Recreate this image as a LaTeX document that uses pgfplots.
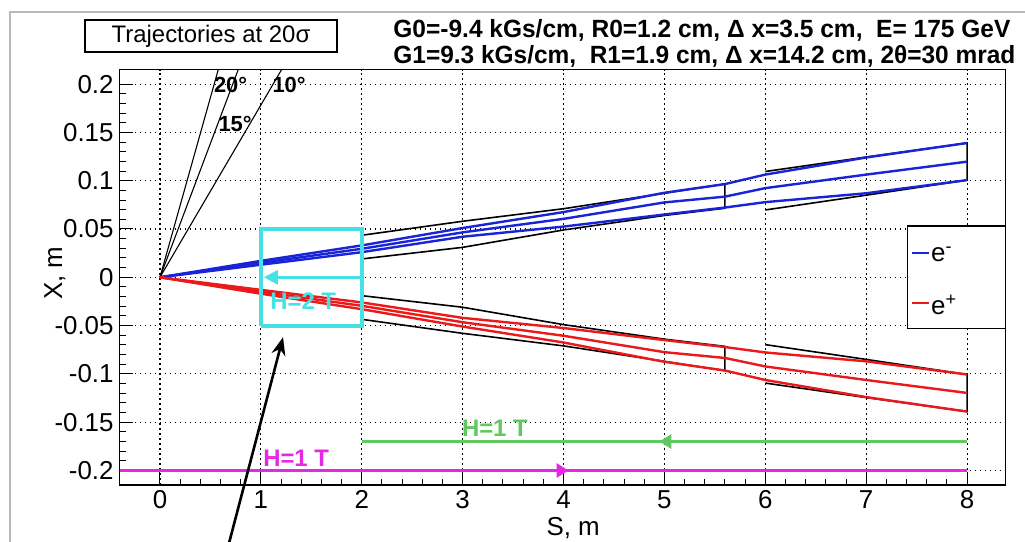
\documentclass[border=0pt]{standalone}
\usepackage{fontspec}
\setmainfont{Liberation Sans}
\usepackage{pgfplots}
\pgfplotsset{compat=1.18}
\usetikzlibrary{arrows.meta}
\definecolor{eblue}{RGB}{25,35,215}
\definecolor{ered}{RGB}{235,25,25}
\definecolor{hgreen}{RGB}{95,200,95}
\definecolor{hmag}{RGB}{230,40,230}
\definecolor{hcyan}{RGB}{70,225,230}
\begin{document}
\begin{tikzpicture}
\useasboundingbox (-59.8bp,-28.5bp) rectangle (452.7bp,242.5bp);
\fill[white] (-59.8bp,-28.5bp) rectangle (452.7bp,242.5bp);
\draw[gray!55, line width=0.8bp] (-54.8bp,-28.5bp) -- (-54.8bp,236.5bp) -- (452.7bp,236.5bp);
\begin{axis}[
  at={(0,0)}, anchor=south west, scale only axis,
  width=442.9bp, height=207.7bp,
  xmin=-0.4, xmax=8.38, ymin=-0.215, ymax=0.215,
  clip=false,
  axis line style={line width=0.75bp},
  tick pos=left, tick align=inside,
  major tick length=6.5bp, minor tick length=3.25bp,
  every tick/.style={black, line width=0.5bp},
  minor x tick num=4, minor y tick num=4,
  xtick={0,1,2,3,4,5,6,7,8},
  xticklabels={0,1,2,3,4,5,6,7,8},
  ytick={-0.2,-0.15,-0.1,-0.05,0,0.05,0.1,0.15,0.2},
  yticklabels={-0.2,-0.15,-0.1,-0.05,0,0.05,0.1,0.15,0.2},
  tick label style={font=\fontsize{13}{14}\selectfont},
  xticklabel style={inner sep=2.5bp},
  yticklabel style={xshift=0.5bp},
  grid=major,
  grid style={black, line width=0.55bp, dash pattern=on 0.9bp off 1.6bp},
  xlabel={S, m},
  xlabel style={at={(axis description cs:0.512,0)}, anchor=center, inner sep=0.5bp, yshift=-21.5bp, font=\fontsize{13}{14}\selectfont},
  ylabel={X, m},
  ylabel style={at={(axis description cs:-0.073,0.51)}, anchor=center, font=\fontsize{13}{14}\selectfont},
]
% angle lines
\addplot[black, line width=0.55bp] coordinates {(0,0) (0.578,0.215)};
\addplot[black, line width=0.55bp] coordinates {(0,0) (0.776,0.215)};
\addplot[black, line width=0.55bp] coordinates {(0,0) (1.206,0.215)};
% envelopes e-
\addplot[black, line width=0.8bp] coordinates {(2,0.0435) (3,0.058) (4,0.071) (5,0.087) (5.6,0.0966) (5.6,0.0715) (5,0.064) (4,0.049) (3,0.031) (2,0.019)};
\addplot[black, line width=0.8bp] coordinates {(6,0.1095) (7,0.1245) (8,0.139) (8,0.1006) (7,0.085) (6,0.0697)};
% envelopes e+
\addplot[black, line width=0.8bp] coordinates {(2,-0.0435) (3,-0.058) (4,-0.071) (5,-0.087) (5.6,-0.0966) (5.6,-0.0715) (5,-0.064) (4,-0.049) (3,-0.031) (2,-0.019)};
\addplot[black, line width=0.8bp] coordinates {(6,-0.1095) (7,-0.1245) (8,-0.139) (8,-0.1006) (7,-0.085) (6,-0.0697)};
% e- trajectories
\addplot[eblue, line width=1.2bp] coordinates {(0,0) (1,0.017) (2,0.033) (3,0.051) (4,0.0675) (5,0.0875) (5.6,0.0965) (6,0.1063) (7,0.124) (8,0.139)};
\addplot[eblue, line width=1.2bp] coordinates {(0,0) (1,0.015) (2,0.0295) (3,0.0465) (4,0.0605) (5,0.0775) (5.6,0.0835) (6,0.0923) (7,0.1063) (8,0.1197)};
\addplot[eblue, line width=1.2bp] coordinates {(0,0) (1,0.013) (2,0.026) (3,0.042) (4,0.0525) (5,0.065) (5.6,0.0722) (6,0.0778) (7,0.087) (8,0.1006)};
% e+ trajectories
\addplot[ered, line width=1.2bp] coordinates {(0,0) (1,-0.017) (2,-0.033) (3,-0.051) (4,-0.0675) (5,-0.0875) (5.6,-0.0965) (6,-0.1063) (7,-0.124) (8,-0.139)};
\addplot[ered, line width=1.2bp] coordinates {(0,0) (1,-0.015) (2,-0.0295) (3,-0.0465) (4,-0.0605) (5,-0.0775) (5.6,-0.0835) (6,-0.0923) (7,-0.1063) (8,-0.1197)};
\addplot[ered, line width=1.2bp] coordinates {(0,0) (1,-0.013) (2,-0.026) (3,-0.042) (4,-0.0525) (5,-0.065) (5.6,-0.0722) (6,-0.0778) (7,-0.087) (8,-0.1006)};
% cyan magnet H=2 T
\addplot[hcyan, line width=2bp] coordinates {(1,-0.05) (2,-0.05) (2,0.05) (1,0.05) (1,-0.05)};
\addplot[hcyan, line width=1.3bp, -{Triangle[length=7bp,width=7bp]}] coordinates {(2,0) (1.03,0)};
% green H=1 T
\addplot[hgreen, line width=1.5bp] coordinates {(8,-0.17) (2,-0.17)};
\addplot[hgreen, line width=1.5bp, -{Triangle[length=6bp,width=7bp]}] coordinates {(8,-0.17) (4.95,-0.17)};
% magenta H=1 T
\addplot[hmag, line width=1.5bp] coordinates {(-0.4,-0.2) (8,-0.2)};
\addplot[hmag, line width=1.5bp, -{Triangle[length=6bp,width=7bp]}] coordinates {(-0.4,-0.2) (4.05,-0.2)};
% labels
\node[hcyan, font=\bfseries\fontsize{12}{13}\selectfont] at (axis cs:1.42,-0.025) {H=2 T};
\node[hgreen, font=\bfseries\fontsize{12}{13}\selectfont] at (axis cs:3.32,-0.156) {H=1 T};
\node[hmag, font=\bfseries\fontsize{12}{13}\selectfont] at (axis cs:1.35,-0.187) {H=1 T};
\node[font=\bfseries\fontsize{11}{12}\selectfont] at (axis cs:0.70,0.199) {20°};
\node[font=\bfseries\fontsize{11}{12}\selectfont] at (axis cs:1.28,0.199) {10°};
\node[font=\bfseries\fontsize{11}{12}\selectfont] at (axis cs:0.745,0.159) {15°};
% pointer arrow
\draw[black, line width=1.3bp, -{Stealth[length=9bp,width=7bp]}] (axis cs:0.685,-0.275) -- (axis cs:1.22,-0.062);
% legend
\draw[black, line width=0.6bp, fill=white] (axis cs:7.41,-0.053) rectangle (axis cs:8.38,0.053);
\draw[eblue, line width=1bp] (axis cs:7.45,0.0248) -- (axis cs:7.62,0.0248);
\node[anchor=west, inner sep=0pt, font=\fontsize{13}{14}\selectfont] at (axis cs:7.64,0.0235) {e\textsuperscript{-}};
\draw[ered, line width=1bp] (axis cs:7.45,-0.027) -- (axis cs:7.62,-0.027);
\node[anchor=west, inner sep=0pt, font=\fontsize{13}{14}\selectfont] at (axis cs:7.64,-0.0285) {e\textsuperscript{+}};
\end{axis}
% title box
\draw[black, line width=0.6bp, fill=white] (-17.3bp,216.5bp) rectangle (108.7bp,232.5bp);
\node[font=\fontsize{12}{13}\selectfont] at (45.7bp,224.5bp) {Trajectories at 20σ};
\node[anchor=west, inner sep=0pt, font=\bfseries\fontsize{12.5}{13}\selectfont] at (136.7bp,227.5bp) {\resizebox{308.5bp}{\height}{G0=-9.4 kGs/cm, R0=1.2 cm, Δ x=3.5 cm,\ \ E= 175 GeV}};
\node[anchor=west, inner sep=0pt, font=\bfseries\fontsize{12.5}{13}\selectfont] at (136.7bp,214.5bp) {\resizebox{311bp}{\height}{G1=9.3 kGs/cm,\ \ R1=1.9 cm, Δ x=14.2 cm, 2θ=30 mrad}};
\end{tikzpicture}
\end{document}
